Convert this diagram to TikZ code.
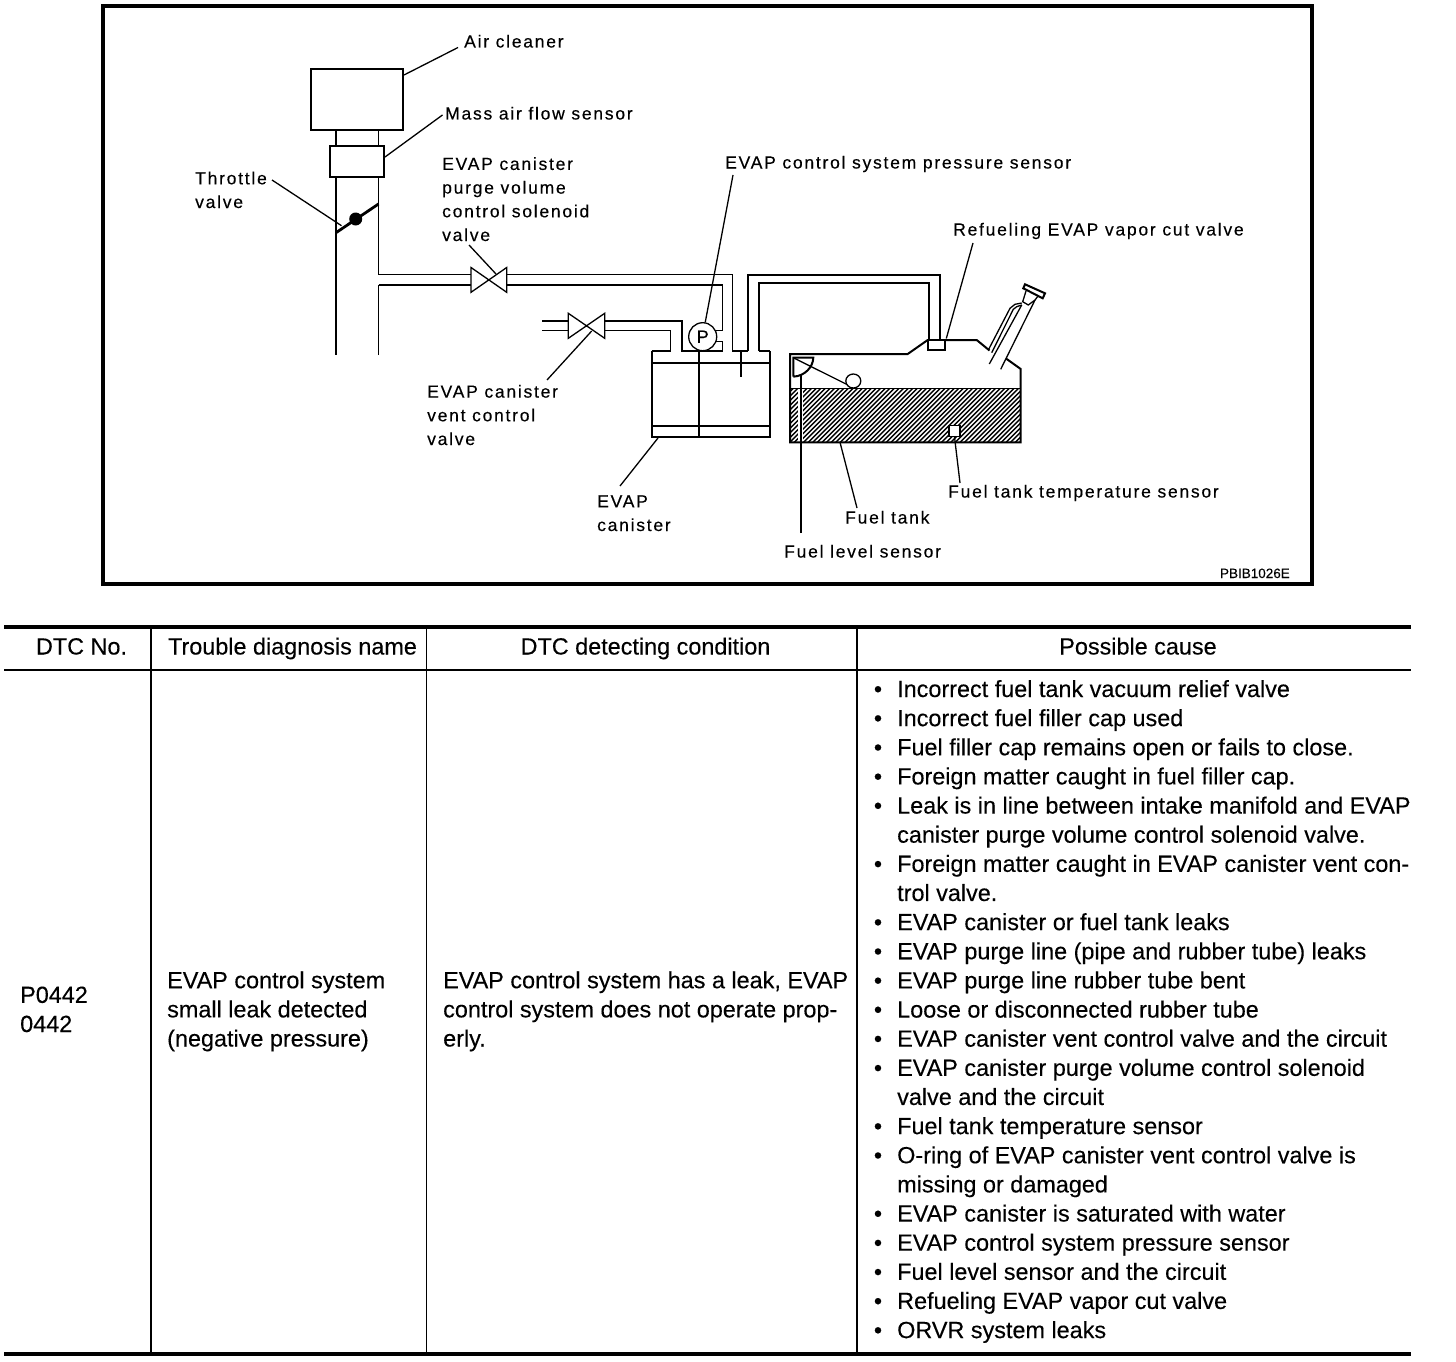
\documentclass[tikz,border=0pt]{standalone}
\usepackage{fontspec}
\setmainfont[FakeBold=0.25]{Liberation Sans}
\newfontfamily\diagfont[LetterSpace=10,FakeBold=0.3]{Liberation Sans}
\usepackage{tikz}
\usetikzlibrary{shapes.geometric}
\begin{document}
\begin{tikzpicture}[x=1pt,y=-1pt,
  thickln/.style={line width=2pt},
  thinln/.style={line width=1.3pt},
  lead/.style={line width=1.3pt},
  lbl/.style={anchor=base west,inner sep=0pt,align=left,font={\diagfont\fontsize{17.5}{23.7}\selectfont}},
  cell/.style={anchor=base west,inner sep=0pt,align=left,font={\fontsize{23.4}{29.14}\selectfont}},
  head/.style={anchor=base,inner sep=0pt,font={\fontsize{23.4}{29.14}\selectfont}},
  unit/.style={draw,line width=2pt,inner sep=0pt,fill=white}]
\useasboundingbox (0,0) rectangle (1456,1362);
\draw[line width=4pt] (103,6) rectangle (1312,584);
% intake duct
\draw[thickln] (336,130) -- (336,355);
\draw[thinln] (378.7,130) -- (378.7,274.7) -- (470.7,274.7);
\draw[thinln] (378.7,355) -- (378.7,285);
\draw[thickln] (378.7,285) -- (470.7,285);
\node[unit,minimum width=92pt,minimum height=61pt] (aircleaner) at (357,99.5) {};
\node[unit,minimum width=54pt,minimum height=31pt] (airflow) at (357,161.2) {};
\draw[line width=2.8pt] (336,232.7) -- (378.5,204);
\fill (355.7,219) circle (6.5);
% purge line
\draw[thinln] (506.7,274.7) -- (732.3,274.7) -- (732.3,351.5);
\draw[thickln] (506.7,284.7) -- (722.7,284.7);
\draw[thinln] (722.7,284.7) -- (722.7,330.7) -- (712,330.7);
\draw[thinln] (712,341.7) -- (722.7,341.7) -- (722.7,351.5);
\draw[thinln] (471,267.5) -- (506.7,292.3) -- (506.7,267.5) -- (471,292.3) -- cycle;
% vent line
\draw[thickln] (542,321) -- (568.3,321);
\draw[thinln] (542,330.7) -- (568.3,330.7);
\draw[thickln] (604.7,321) -- (682.3,321) -- (682.3,351.5);
\draw[thinln] (604.7,330.7) -- (670.3,330.7) -- (670.3,351.5);
\draw[thinln] (568.3,313.3) -- (604.7,338.3) -- (604.7,313.3) -- (568.3,338.3) -- cycle;
% canister
\draw[thickln] (651.7,351) -- (651.7,436.7) -- (770.3,436.7) -- (770.3,351);
\draw[thickln] (651.7,363) -- (770.3,363);
\draw[thickln] (651.7,425.7) -- (770.3,425.7);
\draw[thickln] (699,351) -- (699,436.7);
\draw[thickln] (741,351) -- (741,376.7);
\draw[thinln] (651.7,351) -- (670.3,351) (682.3,351) -- (722.7,351) (732.3,351) -- (748.3,351) (759.3,351) -- (770.3,351);
\node[draw,circle,line width=1.3pt,fill=white,inner sep=0pt,minimum size=28pt,font=\fontsize{18}{18}\selectfont] (psensor) at (702.7,336.7) {P};
% tank line
\draw[thickln] (748.3,351) -- (748.3,274.7) -- (940,274.7) -- (940,340);
\draw[thickln] (759.3,351) -- (759.3,282.7) -- (929,282.7) -- (929,340);
% fuel tank
\begin{scope}
\clip (790,388.3) rectangle (1020.5,442.3);
\foreach \hx in {730,734.6,...,1025}
  \draw[line width=1.4pt] (\hx,442.3) -- ++(54,-54);
\end{scope}
\fill[white] (797.5,389) rectangle (803,441.5);
\draw[thinln] (790,388.3) -- (1020.5,388.3);
\draw[thickln] (989.5,350.5) -- (976.7,340) -- (927.7,340) -- (907.7,354) -- (790,354) -- (790,442.3) -- (1020.7,442.3) -- (1020.7,369) -- (1006,358.5);
\node[draw,line width=2pt,fill=white,inner sep=0pt,minimum width=17pt,minimum height=10pt] (cutvalve) at (936.8,344.5) {};
\node[draw,line width=1.3pt,fill=white,inner sep=0pt,minimum size=11pt] (tempsensor) at (954.5,430.8) {};
\draw[thickln] (793.3,376.7) -- (793.3,357.7) -- (813.3,357.7) .. controls (813,367) and (805,376) .. (793.3,376.7);
\draw[thinln] (793.3,357.7) -- (848,385);
\node[draw,ellipse,line width=1.3pt,fill=white,inner sep=0pt,minimum width=15pt,minimum height=14pt] (tankfloat) at (853.3,381) {};
% filler neck
\draw[thinln] (989.3,364) -- (1021.7,305);
\draw[thinln] (1000.7,369.3) -- (1035,300);
\draw[thinln] (988.3,350) -- (1010,308.3) -- (1015,304.3) -- (1021.7,303);
\draw[thinln] (991.7,352.7) -- (1013.3,309.3) -- (1016.7,306.7) -- (1021.7,305);
\draw[thickln] (1023.3,288.3) -- (1025,284.3) -- (1045,293.3) -- (1042.7,298.3) -- cycle;
\draw[thinln] (1026,291) -- (1022.7,301.7) -- (1028.3,305) -- (1035,300) -- (1038,296);
% diagram labels
\node[lbl] (lblair) at (464,47.5) {Air cleaner};
\node[lbl] (lblmass) at (445,119.5) {Mass air flow sensor};
\node[lbl] (lblpurge) at (442,241) {EVAP canister\\purge volume\\control solenoid\\valve};
\node[lbl] (lblthrottle) at (195,208) {Throttle\\valve};
\node[lbl] (lblpress) at (725,168.5) {EVAP control system pressure sensor};
\node[lbl] (lblcut) at (953,235.5) {Refueling EVAP vapor cut valve};
\node[lbl] (lblvent) at (427,445) {EVAP canister\\vent control\\valve};
\node[lbl] (lblcan) at (597,531) {EVAP\\canister};
\node[lbl] (lblfueltank) at (845,523.5) {Fuel tank};
\node[lbl] (lbltemp) at (948,497.5) {Fuel tank temperature sensor};
\node[lbl] (lbllevel) at (784,557.5) {Fuel level sensor};
\node[anchor=base east,inner sep=0pt,font=\fontsize{13.5}{13.5}\selectfont] (lblcode) at (1290,578) {PBIB1026E};
% leaders
\coordinate (airend) at (458,47.5);
\coordinate (throttleend) at (272,180);
\coordinate (throttlept) at (341.5,225.7);
\coordinate (purgeend) at (469,245);
\coordinate (purgept) at (496,274);
\coordinate (pressend) at (733,175);
\coordinate (ventend) at (547,380);
\coordinate (ventpt) at (591.7,331);
\coordinate (cutend) at (973,243);
\coordinate (canend) at (620,486);
\coordinate (canpt) at (658,438);
\coordinate (tankend) at (857,508);
\coordinate (tankpt) at (840,442.3);
\coordinate (tempend) at (960,483);
\coordinate (levelend) at (801,533);
\coordinate (levelpt) at (801,375);
\coordinate (massend) at (442.5,115);
\draw[lead] (airend) -- (aircleaner.east |- 0,75);
\draw[lead] (massend) -- (airflow.east |- 0,157);
\draw[lead] (throttleend) -- (throttlept);
\draw[lead] (purgeend) -- (purgept);
\draw[lead] (pressend) -- (psensor.80);
\draw[lead] (ventend) -- (ventpt);
\draw[lead] (cutend) -- (cutvalve.north east);
\draw[lead] (canend) -- (canpt);
\draw[lead] (tankend) -- (tankpt);
\draw[lead] (tempend) -- (tempsensor.south);
\draw[lead] (levelend) -- (levelpt);
% table rules
\draw[line width=4pt] (4,627) -- (1411,627);
\draw[line width=1.6pt] (4,669.7) -- (1411,669.7);
\draw[line width=4pt] (4,1353.7) -- (1411,1353.7);
\draw[line width=2pt] (151,627) -- (151,1353.7);
\draw[line width=1.4pt] (426.5,627) -- (426.5,1353.7);
\draw[line width=1.4pt] (857,627) -- (857,1353.7);
% table text
\node[head] (hdno) at (81.5,654.5) {DTC No.};
\node[head] (hdname) at (292.5,654.5) {Trouble diagnosis name};
\node[head] (hdcond) at (645.5,654.5) {DTC detecting condition};
\node[head] (hdcause) at (1138,654.5) {Possible cause};
\node[cell] (dtcno) at (20,1032) {P0442\\0442};
\node[cell] (dtcname) at (167,1046.5) {EVAP control system\\small leak detected\\(negative pressure)};
\node[cell] (dtccond) at (443,1046.5) {EVAP control system has a leak, EVAP\\control system does not operate prop-\\erly.};
\foreach \fl/\ltext [count=\li] in {
  y/Incorrect fuel tank vacuum relief valve,
  y/Incorrect fuel filler cap used,
  y/Fuel filler cap remains open or fails to close.,
  y/Foreign matter caught in fuel filler cap.,
  y/Leak is in line between intake manifold and EVAP,
  n/canister purge volume control solenoid valve.,
  y/Foreign matter caught in EVAP canister vent con-,
  n/trol valve.,
  y/EVAP canister or fuel tank leaks,
  y/EVAP purge line (pipe and rubber tube) leaks,
  y/EVAP purge line rubber tube bent,
  y/Loose or disconnected rubber tube,
  y/EVAP canister vent control valve and the circuit,
  y/EVAP canister purge volume control solenoid,
  n/valve and the circuit,
  y/Fuel tank temperature sensor,
  y/O-ring of EVAP canister vent control valve is,
  n/missing or damaged,
  y/EVAP canister is saturated with water,
  y/EVAP control system pressure sensor,
  y/Fuel level sensor and the circuit,
  y/Refueling EVAP vapor cut valve,
  y/ORVR system leaks}{
  \node[cell] (cause\li) at (897,{697+29.14*(\li-1)}) {\ltext};
  \if\fl y\node[head] (dot\li) at (878,{697+29.14*(\li-1)}) {•};\fi
}
\end{tikzpicture}
\end{document}
